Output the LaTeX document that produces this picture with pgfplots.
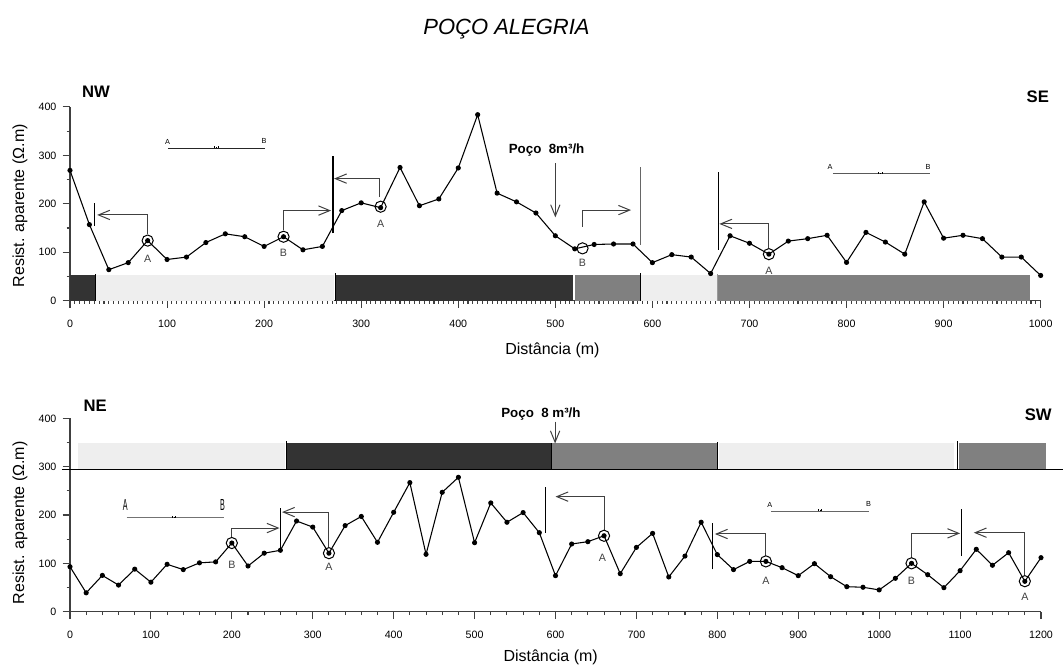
\documentclass[border=0pt]{standalone}
\usepackage{fontspec}
\setmainfont{Liberation Sans}
\usepackage{pgfplots}
\pgfplotsset{compat=1.18}
\usetikzlibrary{arrows.meta}
\definecolor{dk}{HTML}{333333}
\definecolor{md}{HTML}{808080}
\definecolor{lt}{HTML}{EEEEEE}
\definecolor{ax}{HTML}{404040}

\pgfplotstableread{
x y
0 269
20 157
40 64
60 78.5
80 124
100 85
120 90
140 120
160 138
180 132
200 112
220 132
240 105
260 112
280 186
300 202
320 192
340 275
360 196
380 210
400 274
420 384
440 222
460 204
480 181
500 134
520 107
540 116
560 117
580 117
600 78.5
620 95
640 90
660 56
680 134
700 118.5
720 96
740 123
760 128
780 135
800 79
820 141
840 121
860 96
880 204
900 129
920 135
940 128
960 90
980 90
1000 52
}\nwse

\pgfplotstableread{
x y
0 93
20 39
40 75
60 55
80 88
100 61
120 98
140 87
160 101
180 103
200 142
220 94.5
240 121
260 127
280 187.6
300 175
320 121
340 178
360 197
380 143.5
400 205.6
420 267
440 118.7
460 247
480 278
500 142.7
520 225
540 185
560 205
580 163.4
600 74.5
620 140
640 144.8
660 157
680 78.6
700 133
720 162
740 71.8
760 115
780 185
800 118
820 87
840 104
860 104
880 91
900 74.5
920 99.3
940 72.4
960 51.7
980 50.5
1000 45
1020 69
1040 100
1060 76.5
1080 49.6
1100 84.8
1120 129
1140 96
1160 122
1180 62.8
1200 111.7
}\nesw

\pgfplotsset{
  profile/.style={
    scale only axis, clip=false,
    axis x line=bottom, axis y line=left,
    axis line style={ax,line width=0.9pt,-},
    tick style={ax,line width=0.8pt},
    tick align=outside,
    major tick length=5.5pt, minor tick length=2.5pt,
    ymin=0, ymax=400, ytick={0,100,...,400}, minor y tick num=1,
    tick label style={font=\fontsize{8}{8}\selectfont},
    /pgf/number format/assume math mode=true,
    /pgf/number format/1000 sep={},
    xticklabel style={anchor=center,yshift=-12pt},
    yticklabel style={anchor=east,inner sep=0pt,xshift=-4.5pt},
    label style={font=\fontsize{12}{12}\selectfont},
    xlabel={Distância (m)},
  },
  dat/.style={black,line width=0.8pt,mark=*,mark size=1.5pt},
  arr/.style={ax,line width=0.75pt,-{Straight Barb[length=8.5pt,width=7pt]}},
  vbar/.style={black,line width=0.9pt},
  circ/.style={only marks,mark=o,mark size=4.2pt,mark options={line width=0.75pt,black}},
}
\tikzset{
  lab/.style={font=\fontsize{8}{8}\selectfont,text=ax},
  dir/.style={font=\bfseries\fontsize{12.5}{12.5}\selectfont},
  esm/.style={font=\fontsize{5.5}{5.5}\selectfont},
  ylab/.style={rotate=90,anchor=center,font=\fontsize{12}{12}\selectfont},
}

\begin{document}
\begin{tikzpicture}
% ---------------- NW - SE ----------------
\begin{axis}[profile,
  at={(0,0)}, anchor=south west,
  width=728pt, height=145.3pt,
  xmin=0, xmax=1000, xtick={0,100,...,1000}, minor x tick num=19,
  xlabel style={at={(axis description cs:0.497,-0.255)},anchor=center},
]
% litologia
\addplot[fill=dk,draw=none] coordinates {(0,0)(26.7,0)(26.7,53)(0,53)} --cycle;
\addplot[fill=lt,draw=none] coordinates {(26.7,0)(272,0)(272,53)(26.7,53)} --cycle;
\addplot[fill=dk,draw=none] coordinates {(274.5,0)(518,0)(518,53)(274.5,53)} --cycle;
\addplot[fill=md,draw=none] coordinates {(520,0)(588,0)(588,53)(520,53)} --cycle;
\addplot[fill=lt,draw=none] coordinates {(588,0)(666.5,0)(666.5,53)(588,53)} --cycle;
\addplot[fill=md,draw=none] coordinates {(667.5,0)(989,0)(989,53)(667.5,53)} --cycle;
\addplot[black,line width=0.7pt] coordinates {(26.7,0)(26.7,56)};
\addplot[black,line width=0.7pt] coordinates {(273.5,0)(273.5,57)};
\addplot[black,line width=0.7pt] coordinates {(588,0)(588,57)};
\addplot[black!40,line width=0.7pt] coordinates {(667,0)(667,56)};
% dados
\addplot[dat] table[x=x,y=y] {\nwse};
\addplot[circ] coordinates {(80,124)(220,132)(320,194)(528,108)(720,96)};
\node[lab] at (axis cs:80,86) {A};
\node[lab] at (axis cs:220,99) {B};
\node[lab] at (axis cs:320,158) {A};
\node[lab] at (axis cs:528,79) {B};
\node[lab] at (axis cs:720,62) {A};
% setas
\addplot[arr] coordinates {(80,137)(80,177)(28,177)};
\addplot[vbar] coordinates {(25,155)(25,202)};
\addplot[arr] coordinates {(220,146)(220,186)(269,186)};
\addplot[vbar] coordinates {(271,139)(271,299)};
\addplot[arr] coordinates {(319,214)(319,252)(272,252)};
\addplot[arr] coordinates {(500,284)(500,172)};
\node[font=\bfseries\fontsize{10}{10}\selectfont] at (axis cs:491,311) {Poço\ \ 8m³/h};
\addplot[arr] coordinates {(528,153)(528,187)(578,187)};
\addplot[black!60,line width=0.9pt] coordinates {(588,115)(588,275)};
\addplot[arr] coordinates {(720,108)(720,158.5)(669,158.5)};
\addplot[vbar] coordinates {(668,105)(668,266)};
% arranjos
\addplot[black!85,line width=0.6pt] coordinates {(101,315)(201,315)};
\addplot[black,line width=0.4pt] coordinates {(149,315)(149,319)};
\addplot[black,line width=0.4pt] coordinates {(151,315)(151,317.5)};
\addplot[black,line width=0.4pt] coordinates {(153,315)(153,319)};
\node[esm] at (axis cs:100.6,328.5) {A};
\node[esm] at (axis cs:200,329) {B};
\addplot[black!65,line width=0.6pt] coordinates {(786,262)(886,262)};
\addplot[black,line width=0.4pt] coordinates {(833,262)(833,266)};
\addplot[black,line width=0.4pt] coordinates {(835,262)(835,264.5)};
\addplot[black,line width=0.4pt] coordinates {(837,262)(837,266)};
\node[esm] at (axis cs:783,276) {A};
\node[esm] at (axis cs:884,277) {B};
\node[dir] at (axis cs:26.8,431) {NW};
\node[dir] at (axis cs:997,420.5) {SE};
\node[ylab] at (axis description cs:-0.0515,0.49) {Resist. aparente (Ω.m)};
\end{axis}

% ---------------- NE - SW ----------------
\begin{axis}[profile,
  at={(0,-233.25pt)}, anchor=south west,
  width=728.25pt, height=145pt,
  xmin=0, xmax=1200, xtick={0,100,...,1200}, minor x tick num=4,
  xlabel style={at={(axis description cs:0.495,-0.238)},anchor=center},
]
% litologia
\addplot[fill=lt,draw=none] coordinates {(9.5,294.5)(266,294.5)(266,349.5)(9.5,349.5)} --cycle;
\addplot[fill=dk,draw=none] coordinates {(268,294.5)(595,294.5)(595,349.5)(268,349.5)} --cycle;
\addplot[fill=md,draw=none] coordinates {(595,294.5)(800,294.5)(800,349.5)(595,349.5)} --cycle;
\addplot[fill=lt,draw=none] coordinates {(801.5,294.5)(1093,294.5)(1093,349.5)(801.5,349.5)} --cycle;
\addplot[fill=md,draw=none] coordinates {(1099,294.5)(1206.5,294.5)(1206.5,349.5)(1099,349.5)} --cycle;
\addplot[black,line width=0.7pt] coordinates {(267.5,294.5)(267.5,354)};
\addplot[black,line width=0.7pt] coordinates {(595,294.5)(595,350)};
\addplot[black,line width=0.7pt] coordinates {(800.5,294.5)(800.5,352)};
\addplot[black,line width=0.7pt] coordinates {(1097.2,294.5)(1097.2,353)};
\addplot[black,line width=0.9pt] coordinates {(-10,294.5)(1240,294.5)};
% dados
\addplot[dat] table[x=x,y=y] {\nesw};
\addplot[circ] coordinates {(200,142)(320,121)(660,157)(860,104)(1040,100)(1180,63)};
\node[lab] at (axis cs:200,96) {B};
\node[lab] at (axis cs:320,92.5) {A};
\node[lab] at (axis cs:658,111.7) {A};
\node[lab] at (axis cs:860,63.5) {A};
\node[lab] at (axis cs:1040,63.5) {B};
\node[lab] at (axis cs:1180,31) {A};
% setas
\addplot[arr] coordinates {(200,154)(200,173)(259,173)};
\addplot[vbar] coordinates {(260,127)(260,215)};
\addplot[arr] coordinates {(320,133)(320,206)(262,206)};
\addplot[arr] coordinates {(661,169)(661,238)(600,238)};
\addplot[vbar] coordinates {(587.5,163)(587.5,258.5)};
\addplot[arr] coordinates {(860,116)(860,160.7)(797,160.7)};
\addplot[vbar] coordinates {(794,87.6)(794,184)};
\addplot[arr] coordinates {(1040,112)(1040,162)(1100,162)};
\addplot[vbar] coordinates {(1102,115)(1102,211.7)};
\addplot[arr] coordinates {(1180,75)(1180,163.4)(1117,163.4)};
\addplot[arr] coordinates {(599.5,393)(599.5,348)};
\node[font=\bfseries\fontsize{10}{10}\selectfont] at (axis cs:582,408) {Poço\ \ 8 m³/h};
% arranjos
\addplot[black!55,line width=0.6pt] coordinates {(70,194.4)(190.5,194.4)};
\addplot[black,line width=0.4pt] coordinates {(126.6,194.4)(126.6,198.5)};
\addplot[black,line width=0.4pt] coordinates {(128.6,194.4)(128.6,196.5)};
\addplot[black,line width=0.4pt] coordinates {(130.6,194.4)(130.6,198.5)};
\node at (axis cs:68.4,220.7) {\scalebox{0.45}[1]{\fontsize{12}{12}\selectfont A}};
\node at (axis cs:188.5,220.7) {\scalebox{0.45}[1]{\fontsize{12}{12}\selectfont B}};
\addplot[black!60,line width=0.6pt] coordinates {(866.5,207.6)(987.6,207.6)};
\addplot[black,line width=0.4pt] coordinates {(925,207.6)(925,211.5)};
\addplot[black,line width=0.4pt] coordinates {(927,207.6)(927,209.5)};
\addplot[black,line width=0.4pt] coordinates {(929,207.6)(929,211.5)};
\node[esm] at (axis cs:865,221) {A};
\node[esm] at (axis cs:986.8,222.6) {B};
\node[dir] at (axis cs:31,425) {NE};
\node[dir] at (axis cs:1196.5,407) {SW};
\node[ylab] at (axis description cs:-0.0515,0.459) {Resist. aparente (Ω.m)};
\end{axis}

\node[font=\itshape\fontsize{16.5}{16.5}\selectfont] at (327.4pt,204pt) {POÇO ALEGRIA};
\pgfresetboundingbox
\useasboundingbox (-52.5pt,-274pt) rectangle (744.75pt,225.5pt);
\end{tikzpicture}
\end{document}
